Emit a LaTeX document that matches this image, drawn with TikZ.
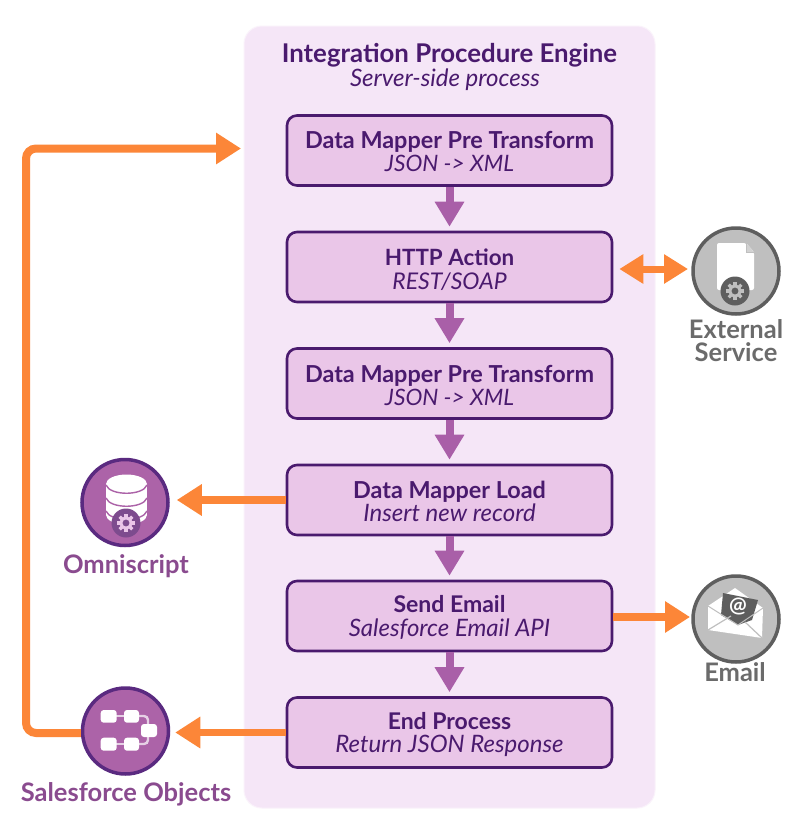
\documentclass[tikz,border=0pt]{standalone}
\usepackage{fontspec}
\setmainfont{Lato}
\usetikzlibrary{arrows.meta,positioning,calc}
\definecolor{panelfill}{HTML}{F5E6F7}
\definecolor{boxfill}{HTML}{EAC6E8}
\definecolor{ink}{HTML}{4A1A6E}
\definecolor{flowc}{HTML}{A95FA8}
\definecolor{orng}{HTML}{FC8638}
\definecolor{iconp}{HTML}{AC63A8}
\definecolor{iconpb}{HTML}{5A2A80}
\definecolor{iconpdk}{HTML}{7D4B8E}
\definecolor{icong}{HTML}{BFBFBF}
\definecolor{icongb}{HTML}{5E5E5E}
\definecolor{lblg}{HTML}{6B6B6B}
\definecolor{lblp}{HTML}{8A4B8F}
\tikzset{
  x=1pt,y=-1pt,
  stepbox/.style={draw=ink,line width=2.6pt,fill=boxfill,rounded corners=10pt,minimum width=325pt,minimum height=70pt,inner sep=0pt},
  steptitle/.style={text=ink,font=\fontsize{23.4}{25}\selectfont\bfseries,inner sep=0pt,anchor=base},
  stepsub/.style={text=ink,font=\fontsize{24}{25}\selectfont\itshape,inner sep=0pt,anchor=base},
  flowarrow/.style={draw=flowc,line width=8pt,shorten >=4pt,-{Triangle[length=25pt,width=28pt]}},
  orangearrow/.style={draw=orng,line width=7.5pt,-{Triangle[length=25pt,width=30pt]}},
  orangedouble/.style={draw=orng,line width=7pt,{Triangle[length=24pt,width=28pt]}-{Triangle[length=24pt,width=28pt]}},
  pcircle/.style={circle,draw=iconpb,line width=3.5pt,fill=iconp,minimum size=86pt,inner sep=0pt},
  gcircle/.style={circle,draw=icongb,line width=3.5pt,fill=icong,minimum size=86pt,inner sep=0pt},
  iconlabel/.style={font=\fontsize{25.5}{22}\selectfont\bfseries,align=center,inner sep=0pt,anchor=base},
  tile/.style={fill=white,rounded corners=3pt},
  linker/.style={draw=white!70!iconp,line width=2.4pt},
}
\newcommand{\stepnode}[6]{\node[stepbox] (#1) at (449.5,#2) {};
  \node[steptitle] (#1t) at (449.5,#2+#5) {#3};
  \node[stepsub] (#1s) at (449.5,#2+#6) {#4};}
\newcommand{\gearicon}[4]{%
  \fill[#3] (#1,#2) circle (14.5pt);
  \draw[#4,line width=3pt] (#1,#2) circle (5.2pt);
  \foreach \a in {0,45,...,315}{\draw[#4,line width=3.2pt] ($(#1,#2)+(\a:6pt)$) -- ($(#1,#2)+(\a:9pt)$);}
}
\begin{document}
\begin{tikzpicture}
\useasboundingbox (0,0) rectangle (800,819);
\fill[white] (0,0) rectangle (800,819);
% panel
\node[draw=white!50!panelfill,line width=1pt,fill=panelfill,rounded corners=18pt,minimum width=411pt,minimum height=782pt,inner sep=0pt] (panel) at (449.5,417) {};
\node[text=ink,font=\fontsize{25.8}{28}\selectfont\bfseries,inner sep=0pt,anchor=base] (ptitle) at (449.5,62) {Integration Procedure Engine};
\node[text=ink,font=\fontsize{24}{26}\selectfont\itshape,inner sep=0pt,anchor=base] (psub) at (445,86) {Server-side process};
% steps
\stepnode{s1}{150.5}{Data Mapper Pre Transform}{\fontsize{22.6}{25}\selectfont JSON -> XML}{-2}{21}
\stepnode{s2}{267}{\fontsize{22.4}{25}\selectfont HTTP Action}{\fontsize{23}{25}\selectfont REST/SOAP}{-2}{22.5}
\stepnode{s3}{383.5}{Data Mapper Pre Transform}{\fontsize{22.6}{25}\selectfont JSON -> XML}{-1}{22}
\stepnode{s4}{500}{\fontsize{23.4}{25}\selectfont Data Mapper Load}{Insert new record}{-1.5}{21.5}
\stepnode{s5}{616}{\fontsize{23}{25}\selectfont Send Email}{Salesforce Email API}{-4}{20.5}
\stepnode{s6}{732.5}{\fontsize{23}{25}\selectfont End Process}{Return JSON Response}{-3.5}{20}
% flow
\draw[flowarrow] (s1.south) -- (s2.north);
\draw[flowarrow] (s2.south) -- (s3.north);
\draw[flowarrow] (s3.south) -- (s4.north);
\draw[flowarrow] (s4.south) -- (s5.north);
\draw[flowarrow] (s5.south) -- (s6.north);
% icons
\node[gcircle] (ext) at (736,271) {};
\node[pcircle] (omni) at (125,502.5) {};
\node[gcircle] (mail) at (736,619) {};
\node[pcircle] (objs) at (125.5,731) {};
% external icon
\fill[white,rounded corners=2pt] (717,243) -- (746,243) -- (754,252) -- (754,290) -- (717,290) -- cycle;
\fill[icong!70!white] (746,243) -- (754,252) -- (746,252) -- cycle;
\draw[icong,line width=1pt] (746,243) -- (746,252) -- (754,252);
\gearicon{735}{291}{icongb}{icong}
% omniscript icon
\fill[white] (106,484) rectangle (147,515);
\fill[white] (126.5,484) ellipse (20.5pt and 9.5pt);
\fill[white] (126.5,515) ellipse (20.5pt and 9.5pt);
\draw[iconp,line width=1.4pt] (106,485) .. controls (110,496) and (143,496) .. (147,485);
\draw[iconp,line width=1.4pt] (106,498) .. controls (110,509) and (143,509) .. (147,498);
\draw[iconp,line width=1.4pt] (106,511) .. controls (110,522) and (143,522) .. (147,511);
\gearicon{126}{523}{iconpdk}{boxfill}
% email icon
\fill[white] (708,606) -- (735,588) -- (763,608) -- (762,638) -- (708,630) -- cycle;
\fill[icongb] (723,593) -- (758,600) -- (752,620) -- (738,625) -- (721,615) -- cycle;
\node[text=white,font=\fontsize{21}{22}\selectfont\bfseries,inner sep=0pt] (atsign) at (738,607) {@};
\draw[icong,line width=1.2pt] (708,630) -- (731,616) (762,638) -- (745,622);
\draw[icong,line width=1pt] (708,606) -- (738,625) -- (763,608);
% objects icon
\draw[linker] (116,716) -- (124,716) (116,744) -- (124,744);
\draw[linker,rounded corners=4pt] (139,716) -- (148,716) -- (148,725);
\draw[linker,rounded corners=4pt] (139,744) -- (148,744) -- (148,737);
\fill[tile] (100.7,710) rectangle (116.7,722.7);
\fill[tile] (124,710) rectangle (139,722.7);
\fill[tile] (141,724) rectangle (157,737);
\fill[tile] (100.7,737.7) rectangle (116.7,750.7);
\fill[tile] (124,737.7) rectangle (139,750.7);
% labels
\node[iconlabel,text=lblg,anchor=center] (extl) at (736,341) {External\\[1pt]Service};
\node[iconlabel,text=lblp] (omnil) at (126,573) {Omniscript};
\node[iconlabel,text=lblg] (maill) at (735,681) {Email};
\node[iconlabel,text=lblp] (objsl) at (126,801) {Salesforce Objects};
% orange connectors
\coordinate (extin) at (688,269);
\coordinate (mailin) at (690,617);
\coordinate (retcorner) at (26,148.5);
\coordinate (retend) at (241,148.5);
\coordinate (objsback) at (26,733);
\draw[orangedouble] (s2.east)++(6,2) -- (extin);
\draw[orangearrow] (s5.east)++(0,1) -- (mailin);
\draw[orangearrow,shorten >=7pt] (s4.west) -- (s4.west-|omni.east);
\draw[orangearrow,shorten >=5pt] (s6.west) -- (s6.west-|objs.east);
\draw[orangearrow,line width=8pt,rounded corners=10pt] (objs.west|-objsback) -- (objsback) -- (retcorner) -- (retend);
\end{tikzpicture}
\end{document}
